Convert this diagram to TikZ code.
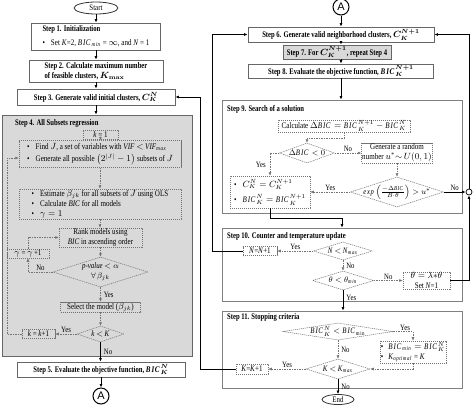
\documentclass[tikz,border=0pt]{standalone}
\usepackage{amsmath}
\usepackage{fontspec}
\setmainfont{Liberation Serif}[FakeStretch=0.82]
\newfontfamily\ttlfont{Liberation Serif}[FakeStretch=0.77]
\newfontfamily\sansA{Liberation Sans}
\usetikzlibrary{shapes.geometric,arrows.meta}
\newcommand{\BIC}{\mathit{BIC}}
\newcommand{\mi}[1]{\textit{#1}}
\newcommand{\bul}{\textbullet\hspace{6pt}}
\begin{document}
\begin{tikzpicture}[x=1pt,y=-1pt,
  ar/.style={-{Latex[length=3.5pt,width=3pt]}},
  conn/.style={ar, draw=black, line width=0.8pt},
  dconn/.style={ar, draw=black!55, line width=0.6pt, dash pattern=on 1.5pt off 1pt},
  stepbox/.style={draw=black!60, line width=0.8pt, fill=white, inner sep=1pt, font=\fontsize{8.6}{10}\selectfont\ttlfont\bfseries\boldmath},
  plainbox/.style={draw=black!60, line width=0.8pt, fill=white, inner sep=1pt, font=\fontsize{8.6}{10}\selectfont},
  outbox/.style={draw=black!50, line width=0.7pt, fill=white, inner sep=0pt},
  dbox/.style={draw=black!55, line width=0.5pt, dash pattern=on 1.2pt off 0.8pt, inner sep=1pt, font=\fontsize{8.6}{9.8}\selectfont},
  ddia/.style={diamond, draw=black!55, line width=0.5pt, dash pattern=on 1.2pt off 0.8pt, inner sep=0pt},
  lab/.style={font=\fontsize{8.2}{9}\selectfont, inner sep=1pt},
  titletxt/.style={font=\fontsize{8.6}{10}\selectfont\ttlfont\bfseries\boldmath, anchor=west, inner sep=0pt},
  txt/.style={font=\fontsize{8.4}{9.4}\selectfont, inner sep=0pt, align=center},
  conA/.style={circle, draw=black, line width=1pt, minimum size=16pt, inner sep=0pt, fill=white, font=\sansA\fontsize{11}{11}\selectfont},
  term/.style={ellipse, draw=black!80, line width=0.8pt, fill=white, inner sep=0pt, font=\fontsize{8.4}{9}\selectfont}
]
\useasboundingbox (0,0) rectangle (474,408);

% ---------------- left column ----------------
\node[term, minimum width=44pt, minimum height=12pt] (start) at (96,8) {Start};
\node[plainbox, minimum width=129pt, minimum height=27pt, align=left] (s1) at (96,36.5) {{\ttlfont\bfseries Step 1. Initialization}\\\rule{0pt}{11pt}\bul Set \mi{K}=2, $\BIC_{\mathit{min}}$ = $\infty$, and \mi{N} = 1};
\node[stepbox, minimum width=134pt, minimum height=22pt, align=left] (s2) at (96,71) {Step 2. Calculate maximum number\\of feasible clusters, $K_{\mathbf{max}}$};
\node[stepbox, minimum width=158pt, minimum height=16pt] (s3) at (96,97) {Step 3. Generate valid initial clusters, $C_K^N$};

\node[draw=black!60, line width=0.8pt, fill=black!15, minimum width=190pt, minimum height=241pt, inner sep=0pt] (s4) at (97,235.5) {};
\node[titletxt] (s4t) at (15,123) {Step 4. All Subsets regression};

\node[dbox, minimum width=35pt, minimum height=9pt, inner sep=0pt] (k1) at (100.5,134.5) {\mi{k} = 1};
\node[dbox, minimum width=162pt, minimum height=27pt, inner sep=0.5pt, align=left] (b1) at (100,154) {\bul Find $J$, a set of variables with \mi{VIF} $<$ \mi{VIF}$_{\mathit{max}}$\\\rule{0pt}{10.5pt}\bul Generate all possible $\bigl(2^{|J|}-1\bigr)$ subsets of $J$};
\node[dbox, minimum width=162pt, minimum height=30pt, inner sep=0.5pt, align=left] (b2) at (100,204) {\bul Estimate $\beta_{jk}$ for all subsets of $J$ using OLS\\\bul Calculate \mi{BIC} for all models\\\bul $\gamma=1$};
\node[dbox, minimum width=83pt, minimum height=19pt, inner sep=0pt, align=center] (rank) at (100.5,237.5) {Rank models using\\\mi{BIC} in ascending order};
\node[ddia, minimum width=95pt, minimum height=30pt] (pd) at (100.5,272) {};
\node[txt] (pdt) at (100.5,272) {\mi{p-value} $<\alpha$\\$\forall\,\beta_{jk}$};
\node[dbox, minimum width=42pt, minimum height=9pt, inner sep=0pt] (gam) at (28,253.5) {$\gamma$ = $\gamma$\,+1};
\node[dbox, minimum width=80pt, minimum height=10pt, inner sep=0pt] (sel) at (100.5,307) {Select the model ($\beta_{jk}$)};
\node[ddia, minimum width=47pt, minimum height=16pt] (kd) at (100.5,334) {};
\node[txt] (kdt) at (100.5,334) {\mi{k} $<$ \mi{K}};
\node[dbox, minimum width=33pt, minimum height=9pt, inner sep=0pt] (kk) at (38.5,334) {\mi{k} = \mi{k}+1};
\coordinate (lpa) at (7,334);
\coordinate (lpb) at (7,158);

\node[stepbox, minimum width=168pt, minimum height=15pt] (s5) at (101,369.5) {Step 5. Evaluate the objective function, $\BIC_K^N$};
\node[conA] (A1) at (101,396) {A};

\draw[conn] (start) -- (s1);
\draw[conn] (s1) -- (s2);
\draw[conn] (s2) -- (s3);
\draw[conn] (s3.south) -- (s3.south |- s4.north);
\draw[dconn] (k1.south) -- (k1.south |- b1.north);
\draw[dconn] (b1.south) -- (b1.south |- b2.north);
\draw[dconn] (b2.south) -- (b2.south |- rank.north);
\draw[dconn] (rank.south) -- (pd.north);
\draw[dconn] (pd.west) -| (gam.south) node[lab, pos=0.25, above] {No};
\draw[dconn] (gam.north) |- (rank.west);
\draw[dconn] (pd.south) -- (sel.north) node[lab, midway, right=2pt] {Yes};
\draw[dconn] (sel.south) -- (kd.north);
\draw[dconn] (kd.west) -- (kk.east) node[lab, midway, above] {Yes};
\draw[dconn] (kk.west) -- (lpa) -- (lpb) -- (lpb -| b1.west);
\draw[conn] (kd.south) -- (kd.south |- s5.north) node[lab, midway, right=2pt] {No};
\draw[conn] (s5.south) -- (A1.north);

% ---------------- right column ----------------
\node[conA] (A2) at (341,7) {A};
\node[stepbox, minimum width=186pt, minimum height=15pt] (s6) at (341,34.5) {Step 6. Generate valid neighborhood clusters, $C_K^{N+1}$};
\node[stepbox, fill=black!15, minimum width=108pt, minimum height=14pt] (s7) at (337,52) {Step 7. For $C_K^{N+1}$, repeat Step 4};
\node[stepbox, minimum width=185pt, minimum height=14pt] (s8) at (341,71) {Step 8. Evaluate the objective function, $\BIC_K^{N+1}$};

\node[outbox, minimum width=240pt, minimum height=113pt] (s9) at (342,156.5) {};
\node[titletxt] (s9t) at (227,109) {Step 9. Search of a solution};
\node[dbox, minimum width=132pt, minimum height=12pt, inner sep=0pt] (calc) at (344,126) {Calculate $\Delta\BIC = \BIC_K^{N+1}-\BIC_K^N$};
\node[ddia, minimum width=55pt, minimum height=20pt] (dd) at (307,153) {};
\node[txt] (ddt) at (307,153) {$\Delta\BIC<0$};
\node[dbox, minimum width=71pt, minimum height=20pt, inner sep=0pt, align=center] (gen) at (397,153) {Generate a random\\number $u^*{\sim}\,U(0,1)$};
\node[dbox, minimum width=80pt, minimum height=32pt, align=left] (upd) at (270,192) {\bul $C_K^N=C_K^{N+1}$\\\rule{0pt}{12pt}\bul $\BIC_K^N=\BIC_K^{N+1}$};
\node[ddia, minimum width=93pt, minimum height=30pt] (ed) at (397,192) {};
\node[txt, font=\fontsize{8}{8.5}\selectfont] (edt) at (397,192) {$\mathit{exp}\left(\frac{-\Delta\BIC}{B\cdot\theta}\right)>u^*$};
\node[circle, draw=black, line width=0.7pt, minimum size=6pt, inner sep=0pt, fill=white] (jn) at (469,192) {};

\node[outbox, minimum width=240pt, minimum height=73pt] (s10) at (342,264.5) {};
\node[titletxt] (s10t) at (227,236) {Step 10. Counter and temperature update};
\node[ddia, minimum width=59pt, minimum height=18pt] (nd) at (343,251) {};
\node[txt] (ndt) at (343,251) {\mi{N} $<$ \mi{N}$_{\mathit{max}}$};
\node[dbox, minimum width=34pt, minimum height=9pt, inner sep=0pt] (n1) at (260,251) {\mi{N}=\mi{N}+1};
\node[ddia, minimum width=61pt, minimum height=19pt] (td) at (343,280.5) {};
\node[txt] (tdt) at (343,280.5) {$\theta<\theta_{\mathit{min}}$};
\node[dbox, minimum width=47pt, minimum height=17pt, inner sep=0pt, align=center] (tb) at (426.5,280.5) {$\theta=\lambda{*}\theta$\\Set \mi{N}=1};

\node[outbox, minimum width=240pt, minimum height=77pt] (s11) at (342,349.5) {};
\node[titletxt] (s11t) at (227,317) {Step 11. Stopping criteria};
\node[ddia, minimum width=110pt, minimum height=17pt] (bd) at (338,331.5) {};
\node[txt] (bdt) at (338,331.5) {$\BIC_K^N<\BIC_{\mathrm{min}}$};
\node[dbox, minimum width=59pt, minimum height=22pt, align=left] (bb) at (413,352) {\textbullet\hspace{5pt}$\BIC_{\mathit{min}}=\BIC_K^N$\\\textbullet\hspace{5pt}\mi{K}$_{\mathit{optimal}}$ = \mi{K}};
\node[ddia, minimum width=64pt, minimum height=20pt] (kd2) at (338,369) {};
\node[txt] (kd2t) at (338,369) {\mi{K} $<$ \mi{K}$_{\mathit{max}}$};
\node[dbox, minimum width=32pt, minimum height=10pt, inner sep=0pt] (kk2) at (252,369) {\mi{K}=\mi{K}+1};
\node[term, minimum width=32pt, minimum height=10pt] (end) at (338,399.5) {End};

\draw[conn] (A2.south) -- (A2.south |- s6.north);
\draw[conn] (s6.south) -- (s6.south |- s7.north);
\draw[conn] (s6.south |- s7.south) -- (s6.south |- s8.north);
\draw[conn] (s8.south) -- (s8.south |- s9.north);
\draw[dconn] (calc.south) -- ++(0,6) -| (dd.north);
\draw[dconn] (dd.east) -- (gen.west) node[lab, midway, above] {No};
\draw[dconn] (dd.west) -| (upd.north) node[lab, pos=0.75, left=3pt] {Yes};
\draw[dconn] (gen.south) -- (ed.north);
\draw[dconn] (ed.west) -- (upd.east) node[lab, midway, above] {Yes};
\draw[conn] (ed.east) -- (jn.west) node[lab, midway, above] {No};
\draw[conn] (jn.north) |- (s6.east);
\draw[conn] (upd.south) -- ++(0,10) -| (s10.north);

\draw[dconn] (nd.west) -- (n1.east) node[lab, midway, above] {Yes};
\draw[dconn] (nd.south) -- (td.north) node[lab, midway, right=2pt] {No};
\draw[dconn] (td.east) -- (tb.west) node[lab, midway, above] {No};
\draw[conn] (td.south) -- (td.south |- s11.north) node[lab, pos=0.35, right=2pt] {Yes};
\draw[conn] (tb.east) -| (jn.south);
\draw[conn] (n1.west) -- ++(-30,0) |- (s6.west);

\draw[dconn] (bd.east) -| (bb.north) node[lab, pos=0.3, above] {Yes};
\draw[dconn] (bd.south) -- (kd2.north) node[lab, midway, right=2pt] {No};
\draw[dconn] (bb.south) |- (kd2.east);
\draw[dconn] (kd2.west) -- (kk2.east) node[lab, midway, above] {Yes};
\draw[conn] (kd2.south) -- (end.north) node[lab, midway, right=2pt] {No};
\draw[conn] (kk2.west) -- ++(-35,0) |- (s3.east);
\end{tikzpicture}
\end{document}
